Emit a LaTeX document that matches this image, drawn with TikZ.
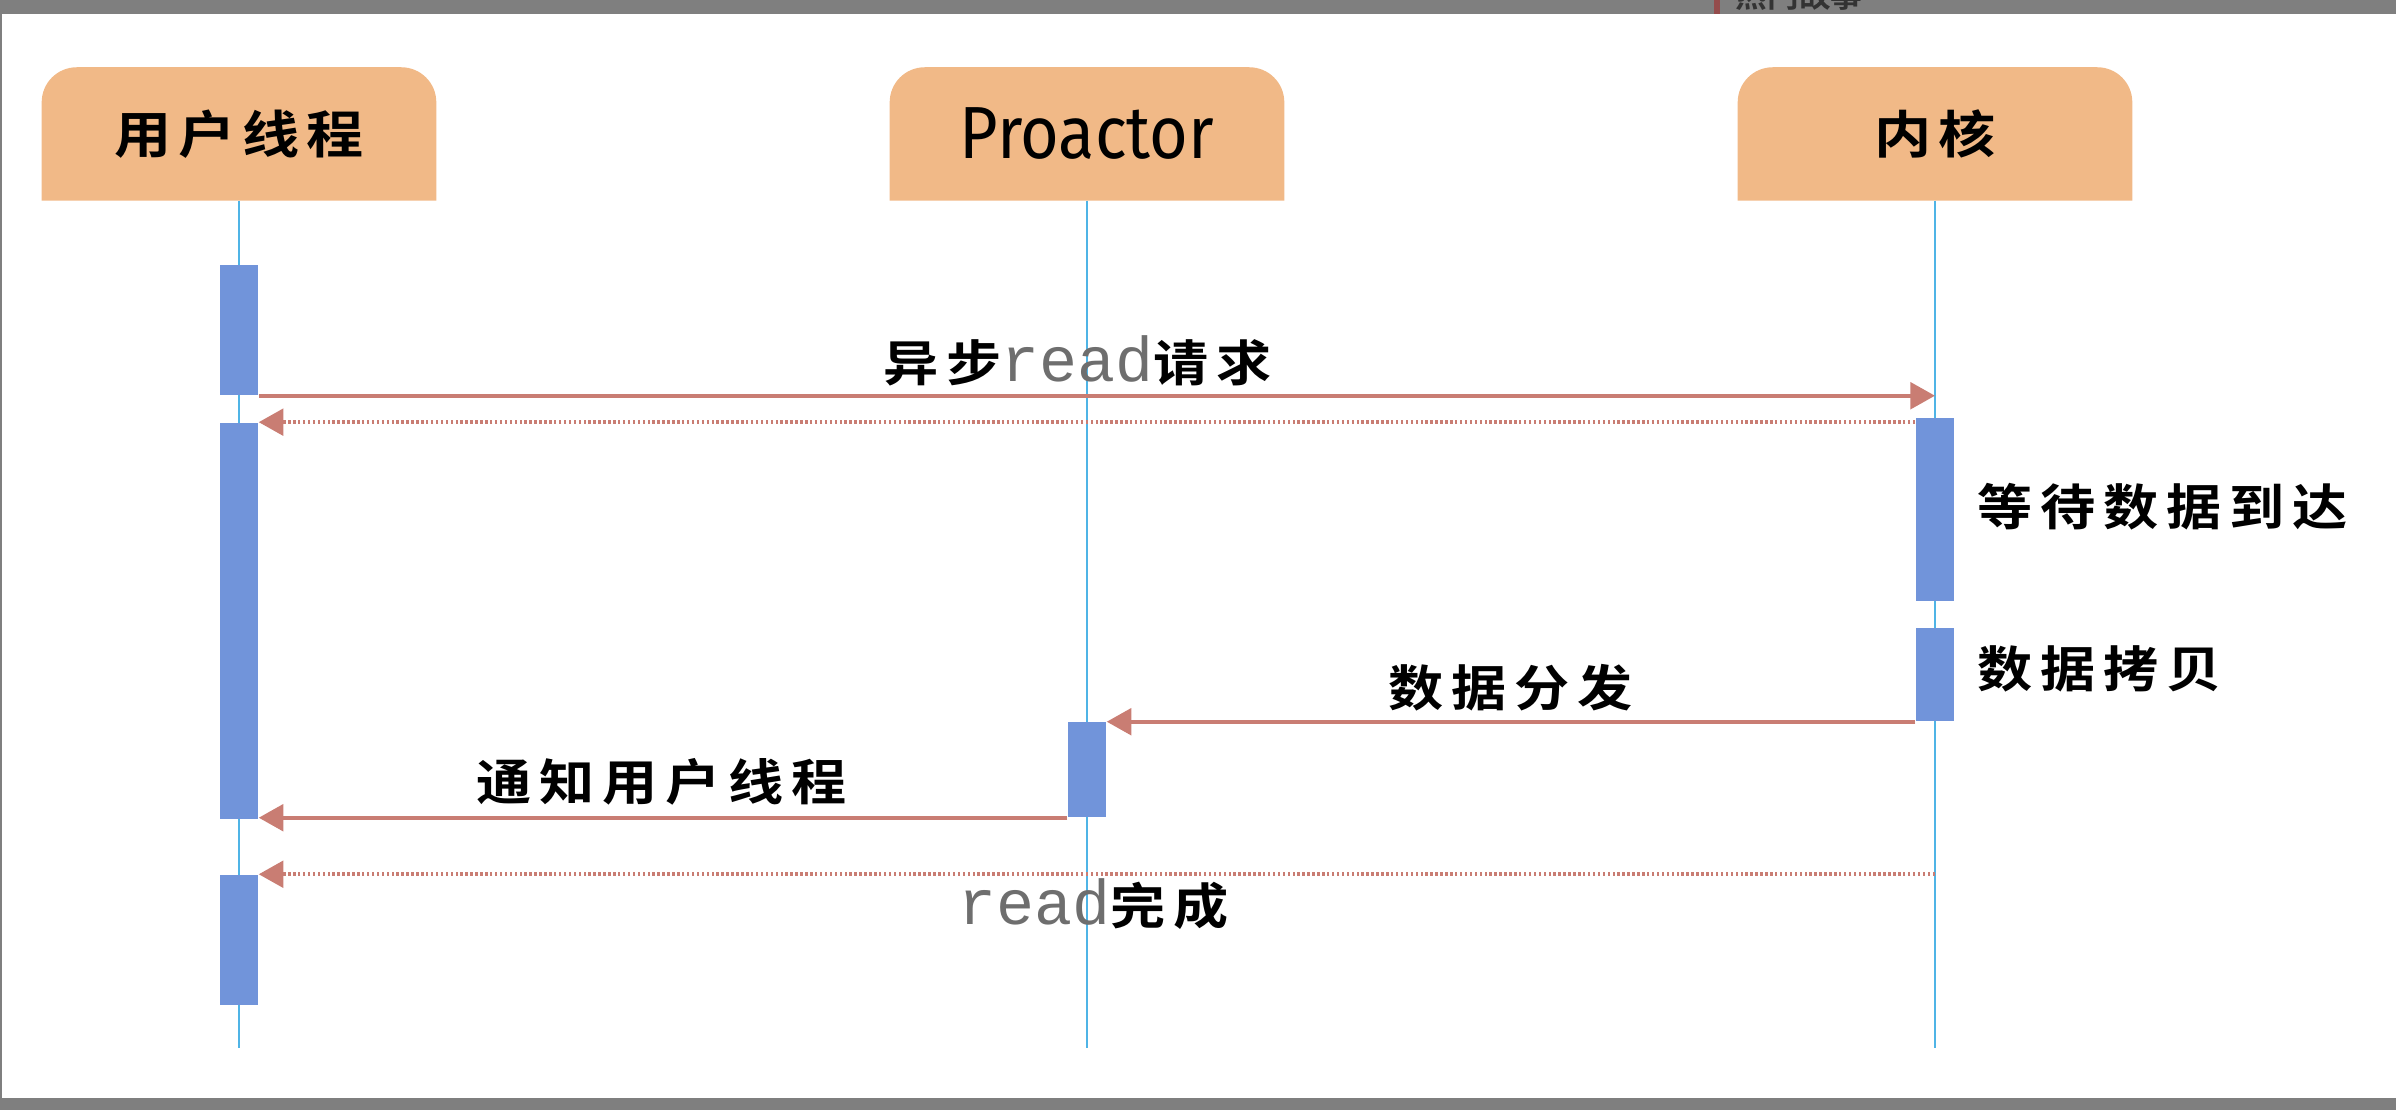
\documentclass[tikz,border=0pt]{standalone}
\usepackage{fontspec}
\usetikzlibrary{arrows.meta,backgrounds}
\newfontfamily\cjkfont[FakeStretch=1.12,LetterSpace=16]{Noto Sans CJK SC Bold}
\newfontfamily\headcjk[FakeStretch=1.12,LetterSpace=14]{Noto Sans CJK SC Bold}
\newfontfamily\headlat[FakeStretch=0.9]{Fira Sans}
\newfontfamily\rdfont{Liberation Mono}
\newfontfamily\topfont{Noto Sans CJK SC Bold}
\definecolor{headfill}{HTML}{F1B987}
\definecolor{lifeblue}{HTML}{4FB4E6}
\definecolor{barblue}{HTML}{7194DA}
\definecolor{msgred}{HTML}{C97D73}
\definecolor{rdgray}{HTML}{6E6E6E}
\definecolor{bandgray}{HTML}{7F7F7F}
\newcommand{\rdword}{{\rdfont\fontsize{18}{20}\selectfont\color{rdgray}read}}
\begin{document}
\begin{tikzpicture}[x=0.01cm,y=-0.01cm,
  head/.style={minimum width=3.93cm,minimum height=1.32cm,inner sep=0pt},
  lifeline/.style={draw=lifeblue,line width=0.6pt},
  actbar/.style={fill=barblue,minimum width=0.38cm,inner sep=0pt},
  msg/.style={draw=msgred,line width=1.2pt,-{Triangle[length=7pt,width=7.5pt]}},
  reply/.style={msg,dash pattern=on 0.7pt off 0.7pt},
  lbl/.style={inner sep=0pt,anchor=base west,font=\cjkfont\fontsize{14}{16}\selectfont}]
\useasboundingbox (0,0) rectangle (2396,1110);
% screenshot borders
\fill[bandgray] (0,0) rectangle (2396,14);
\fill[bandgray] (0,1098) rectangle (2396,1110);
\fill[bandgray] (0,0) rectangle (2,1110);
\fill[black!60!red!70] (1714,0) rectangle (1720,14);
\begin{scope}
\clip (0,0) rectangle (2396,14);
\node[inner sep=0pt,anchor=base west,text=black!80,font=\topfont\fontsize{9}{10}\selectfont] (topnews) at (1735,8) {热门故事};
\end{scope}
% participants
\node[head,font=\headcjk\fontsize{14.5}{16}\selectfont] (user) at (239,134) {用户线程};
\node[head,font=\headlat\fontsize{21}{24}\selectfont] (pro) at (1087,134) {Proactor};
\node[head,font=\headcjk\fontsize{14.5}{16}\selectfont] (kern) at (1935,134) {内核};
\begin{scope}[on background layer]
\foreach \h in {user,pro,kern}
  \fill[headfill] (\h.south west) [rounded corners=0.35cm] -- (\h.north west) -- (\h.north east) [sharp corners] -- (\h.south east) -- cycle;
\end{scope}
\coordinate (uend) at (239,1048);
\coordinate (pend) at (1087,1048);
\coordinate (kend) at (1935,1048);
\draw[lifeline] (user.south) -- (uend);
\draw[lifeline] (pro.south) -- (pend);
\draw[lifeline] (kern.south) -- (kend);
% activation bars
\node[actbar,minimum height=1.30cm] (ub1) at (239,330) {};
\node[actbar,minimum height=3.96cm] (ub2) at (239,621) {};
\node[actbar,minimum height=1.30cm] (ub3) at (239,940) {};
\node[actbar,minimum height=1.83cm] (kb1) at (1935,509.5) {};
\node[actbar,minimum height=0.93cm] (kb2) at (1935,674.5) {};
\node[actbar,minimum height=0.95cm] (pb) at (1087,769.5) {};
% messages
\draw[msg] (ub1.south east) -- (ub1.south east -| kern);
\draw[reply] (ub2.north east -| kb1.west) -- (ub2.north east);
\draw[msg] (kb2.south west) -- (kb2.south west -| pb.east);
\draw[msg] (pb.south west) -- (pb.south west -| ub2.east);
\draw[reply] (ub3.north east -| kern) -- (ub3.north east);
% labels
\node[lbl] (req) at (883,382) {异步\rdword 请求};
\node[lbl] (wait) at (1977,526) {等待数据到达};
\node[lbl] (copy) at (1977,688) {数据拷贝};
\node[lbl] (disp) at (1388,707) {数据分发};
\node[lbl] (notify) at (476,801) {通知用户线程};
\node[lbl] (done) at (958,925) {\rdword 完成};
\end{tikzpicture}
\end{document}
